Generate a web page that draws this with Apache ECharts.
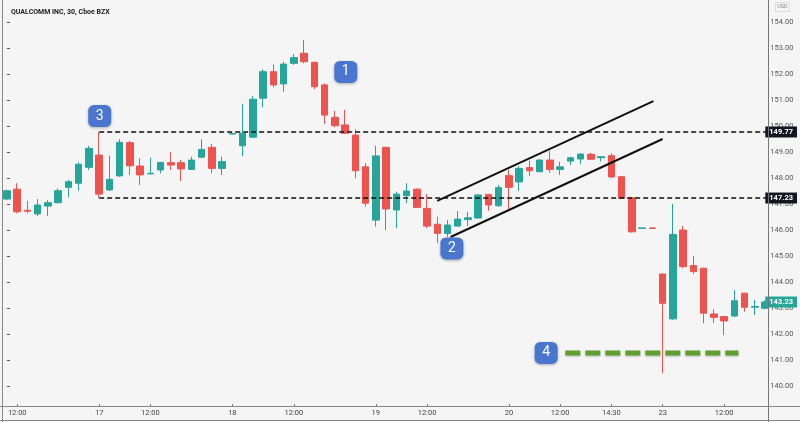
<!DOCTYPE html>
<html>
<head>
<meta charset="utf-8">
<script src="https://cdn.jsdelivr.net/npm/echarts@6/dist/echarts.min.js"></script>
<style>
html,body{margin:0;padding:0;background:#f5f5f5;}
#chart{width:800px;height:422px;}
</style>
</head>
<body>
<div id="chart"></div>
<script>
// ---- Data (30-minute bars) ----
const categories = [
 '16 11:30','16 12:00','16 12:30','16 13:00','16 13:30','16 14:00','16 14:30','16 15:00','16 15:30',
 '17 09:30','17 10:00','17 10:30','17 11:00','17 11:30','17 12:00','17 12:30','17 13:00','17 13:30','17 14:00','17 14:30','17 15:00','17 15:30',
 '18 09:00','18 09:30','18 10:00','18 10:30','18 11:00','18 11:30','18 12:00','18 12:30','18 13:00','18 13:30','18 14:00','18 14:30','18 15:00','18 15:30',
 '19 09:30','19 10:00','19 10:30','19 11:00','19 11:30','19 12:00','19 12:30','19 13:00','19 13:30','19 14:00','19 14:30','19 15:00','19 15:30',
 '20 09:30','20 10:00','20 10:30','20 11:00','20 11:30','20 12:00','20 12:30','20 13:00','20 13:30','20 14:00','20 14:30','20 15:00','20 15:30','20 16:00','20 16:30',
 '23 09:00','23 09:30','23 10:00','23 10:30','23 11:00','23 11:30','23 12:00','23 12:30','23 13:00','23 13:30','23 14:00'
];
const opens  = [147.19,147.57,146.76,146.62,146.92,147.05,147.64,147.80,148.41,148.88,147.54,148.08,149.36,148.46,148.16,148.31,148.59,148.59,148.33,148.80,149.18,148.37,149.69,149.24,149.57,151.07,152.09,151.62,152.41,152.80,152.45,151.58,150.33,150.04,149.65,148.43,146.38,149.18,146.77,147.32,147.57,146.83,146.22,145.87,146.15,146.40,146.46,147.37,146.93,148.09,147.85,148.40,148.24,148.69,148.33,148.65,148.73,148.91,148.78,148.86,148.05,147.24,146.06,146.08,144.31,142.58,146.00,144.63,144.53,142.77,142.67,142.69,143.57,143.03,142.99];
const closes = [147.51,146.70,146.72,146.96,147.05,147.51,147.86,148.53,149.14,147.38,147.95,149.37,148.47,148.12,148.18,148.60,148.50,148.35,148.69,149.10,148.37,148.63,149.71,149.72,151.03,152.09,151.58,152.38,152.63,152.47,151.51,150.42,150.01,149.72,148.28,147.03,148.85,146.81,147.38,147.50,146.87,146.15,145.87,146.19,146.42,146.47,147.35,146.96,147.63,147.64,148.37,148.28,148.69,148.33,148.43,148.78,148.92,148.72,148.82,148.04,147.22,145.93,146.08,146.06,143.18,145.83,144.59,144.40,142.80,142.64,142.50,143.28,143.03,143.06,143.23];
const lows   = [147.15,146.64,146.64,146.54,146.54,147.03,147.26,147.51,148.31,147.24,147.51,148.05,148.12,147.73,148.14,148.18,148.31,147.88,148.31,148.76,148.18,148.12,149.68,148.85,149.53,150.72,151.49,151.32,152.35,152.41,151.42,150.08,149.95,149.69,147.99,146.90,146.13,146.00,146.07,147.03,146.85,146.07,145.49,145.74,146.13,146.15,146.44,146.74,146.90,146.80,147.51,148.08,148.22,148.20,148.12,148.50,148.53,148.70,148.63,148.00,147.20,145.90,146.06,146.06,140.49,142.55,144.53,144.31,142.41,142.43,141.96,142.65,142.86,142.73,142.95];
const highs  = [147.55,147.80,147.12,147.19,147.15,147.60,147.92,148.60,149.23,149.77,148.86,149.49,149.43,148.76,148.78,148.62,148.99,148.69,148.82,149.49,149.31,148.82,149.73,150.85,151.15,152.18,152.37,152.47,152.77,153.31,152.47,151.64,150.58,150.62,149.87,148.57,149.24,149.20,147.47,147.80,147.60,147.38,146.51,146.38,146.73,146.70,147.37,147.38,147.73,148.31,148.46,148.67,148.72,149.05,148.63,148.82,148.95,148.97,148.83,148.95,148.07,147.25,146.08,146.08,144.31,147.00,146.15,145.00,144.55,142.95,142.70,143.69,143.58,143.31,143.30];

// x-axis tick labels (bar index -> text)
const tickIdx  = [1, 9, 14, 22, 28, 36, 41, 49, 54, 59, 64, 70];
const tickText = ['12:00','17','12:00','18','12:00','19','12:00','20','12:00','14:30','23','12:00'];
// y-axis tick labels
const yTicks = [140,141,142,143,144,145,146,147,148,149,150,151,152,153,154];

// annotations (in bar-index / price units)
const levelPrices = [149.77, 147.23];
const levelStart = 9;
const lastPrice = 143.23;
const upperTrend = [[42.0, 147.12], [63.1, 150.96]];
const lowerTrend = [[43.3, 145.73], [64.0, 149.50]];
const supportLine = [[54.5, 141.27], [71.4, 141.27]];
const markers = [[33.07, 152.08, '1'], [43.43, 145.29, '2'], [9.05, 150.38, '3'], [52.63, 141.27, '4']];

const UP = '#26a69a', DOWN = '#ef5350';
const candleData = opens.map((o, i) => [o, closes[i], lows[i], highs[i]]);

const chart = echarts.init(document.getElementById('chart'), null, {renderer: 'canvas'});
const yMin = 154 - 384 / 26, yMax = 154 + 14 / 26;
const nBars = categories.length;

const option = {
  backgroundColor: '#f5f5f5',
  animation: false,
  title: {
    text: 'QUALCOMM INC, 30, Cboe BZX', left: 6, top: 4,
    textStyle: {fontSize: 7, fontWeight: 'bold', color: '#222', fontFamily: 'Roboto'}
  },
  grid: {left: 1.86, right: 800 - (1.86 + 10.28 * nBars), top: 8, bottom: 16, containLabel: false},
  xAxis: [{
    type: 'category', data: categories, boundaryGap: true,
    axisLine: {show: false},
    axisTick: {show: true, inside: true, length: 2, lineStyle: {color: '#777'},
      interval: (i) => tickIdx.indexOf(i) >= 0, alignWithLabel: true},
    axisLabel: {
      interval: (i) => tickIdx.indexOf(i) >= 0,
      formatter: (v, i) => { const k = tickIdx.indexOf(i); return k >= 0 ? tickText[k] : ''; },
      fontSize: 7.5, color: '#444', margin: 3, fontFamily: 'Roboto'
    },
    splitLine: {show: false}
  }, {
    type: 'value', show: false, min: -0.5, max: nBars - 0.5
  }],
  yAxis: [{
    type: 'value', position: 'right', min: yMin, max: yMax, offset: -4.9, scale: true,
    axisLine: {show: false},
    axisTick: {show: true, length: 3, lineStyle: {color: '#555'}, customValues: yTicks},
    axisLabel: {customValues: yTicks, formatter: (v) => v.toFixed(2), fontSize: 7.5, color: '#555', margin: 5, fontFamily: 'Roboto'},
    splitLine: {show: false}
  }, {
    type: 'value', position: 'right', min: yMin, max: yMax, offset: -4.9, scale: true, z: 10,
    axisLine: {show: false}, axisTick: {show: false}, splitLine: {show: false},
    axisLabel: {
      customValues: levelPrices.concat([lastPrice]), margin: 0,
      formatter: (v) => (Math.abs(v - lastPrice) < 0.001 ? '{g|' : '{k|') + v.toFixed(2) + '}',
      rich: {
        k: {backgroundColor: '#131722', color: '#fff', fontSize: 7.5, fontWeight: 'bold', padding: [2, 4, 1, 4], fontFamily: 'Roboto'},
        g: {backgroundColor: UP, color: '#fff', fontSize: 7.5, fontWeight: 'bold', padding: [2, 4, 1, 4], fontFamily: 'Roboto'}
      }
    }
  }],
  graphic: [
    {type: 'line', shape: {x1: 768.5, y1: 0, x2: 768.5, y2: 422}, style: {stroke: '#777', lineWidth: 1}, z: 100},
    {type: 'line', shape: {x1: 0, y1: 406.5, x2: 800, y2: 406.5}, style: {stroke: '#888', lineWidth: 1}, z: 100},
    {type: 'line', shape: {x1: 2.5, y1: 0, x2: 2.5, y2: 422}, style: {stroke: '#888', lineWidth: 1}, z: 100},
    {type: 'line', shape: {x1: 0, y1: 420.5, x2: 800, y2: 420.5}, style: {stroke: '#888', lineWidth: 1}, z: 100},
    {type: 'rect', shape: {x: 775.5, y: 2.5, width: 14, height: 9}, style: {fill: 'none', stroke: '#ddd', lineWidth: 1}, z: 100},
    {type: 'text', x: 782.5, y: 7, style: {text: 'USD', fontSize: 5.5, fill: '#888', align: 'center', verticalAlign: 'middle', fontFamily: 'Roboto'}, z: 100}
  ],
  series: [{
    type: 'candlestick', xAxisIndex: 0, yAxisIndex: 0,
    data: candleData, barWidth: 7,
    itemStyle: {color: UP, color0: DOWN, borderColor: UP, borderColor0: DOWN, borderColorDoji: UP, borderWidth: 1},
    z: 2
  },
  ...levelPrices.map(p => ({
    type: 'line', xAxisIndex: 1, yAxisIndex: 0, symbol: 'none', silent: true,
    data: [[levelStart, p], [nBars - 0.5, p]],
    lineStyle: {color: '#111', width: 1.4, type: [5, 3]}, z: 5
  })),
  {
    type: 'line', xAxisIndex: 1, yAxisIndex: 0, symbol: 'none', data: upperTrend,
    lineStyle: {color: '#111', width: 2}, z: 6
  }, {
    type: 'line', xAxisIndex: 1, yAxisIndex: 0, symbol: 'none', data: lowerTrend,
    lineStyle: {color: '#111', width: 2}, z: 6
  }, {
    type: 'line', xAxisIndex: 1, yAxisIndex: 0, symbol: 'none', data: supportLine,
    lineStyle: {color: '#5f9f2d', width: 5, type: [15, 5], cap: 'butt', shadowBlur: 2, shadowColor: 'rgba(0,0,0,0.25)', shadowOffsetY: 1}, z: 6
  }, {
    type: 'scatter', xAxisIndex: 1, yAxisIndex: 0, data: markers,
    symbol: 'roundRect', symbolSize: [23, 22],
    itemStyle: {color: '#4a76d0', opacity: 1, shadowBlur: 3, shadowColor: 'rgba(0,0,0,0.3)', shadowOffsetY: 1},
    label: {show: true, position: 'inside', formatter: (p) => p.data[2], color: '#fff', fontSize: 14, fontFamily: 'Roboto'},
    z: 8
  }]
};
chart.setOption(option);
</script>
</body>
</html>
